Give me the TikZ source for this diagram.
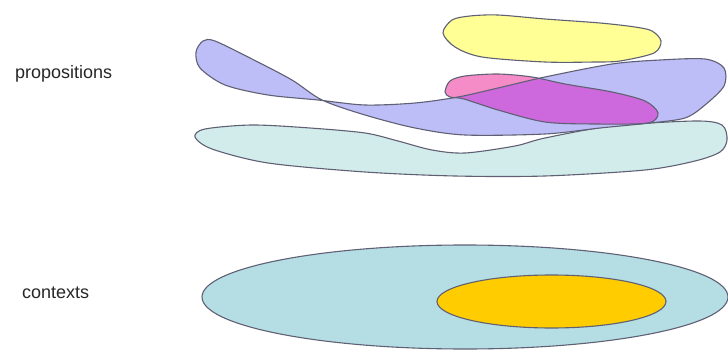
\documentclass[tikz,border=0pt]{standalone}
\usepackage{fontspec}
\setmainfont{Liberation Sans}
\definecolor{outline}{RGB}{96,96,116}
\definecolor{lavender}{RGB}{189,189,247}
\definecolor{rose}{RGB}{245,140,200}
\definecolor{mauve}{RGB}{205,105,220}
\definecolor{lemon}{RGB}{255,255,150}
\definecolor{mint}{RGB}{210,236,236}
\definecolor{ctxblue}{RGB}{180,222,228}
\definecolor{ctxorange}{RGB}{255,204,0}

\begin{document}
\begin{tikzpicture}[x=1pt,y=-1pt,
    blob/.style={draw=outline, line width=1.1pt, line join=round},
    label/.style={anchor=base west, inner sep=0pt, text=black!85,
      font=\fontsize{18}{20}\selectfont}]
    \useasboundingbox (0,0) rectangle (728,350);

    \node[label] (1) at (15,79) {propositions};
    \node[label] (2) at (22,298) {contexts};

    % propositions
    \filldraw[blob, fill=lemon] plot[smooth cycle] coordinates {(443,33) (452,20) (470,16) (498,15) (545,19) (600,23) (635,27) (652,31) (661,41) (654,53) (620,61) (595,62) (545,62) (482,57) (455,47)};
    \filldraw[blob, fill=mint] plot[smooth cycle] coordinates {(195,137) (205,129) (252,125) (310,128) (365,133) (398,141) (432,150) (465,153) (515,146) (545,138) (612,126) (695,121) (722,125) (727,140) (720,152) (695,161) (645,170) (545,176) (455,176) (365,172) (268,163) (212,149)};

    \path[save path=\pblue] plot[smooth cycle] coordinates {(196,52) (203,41) (215,41) (252,59) (292,80) (322,100) (365,115) (415,128) (465,135) (545,134) (600,128) (650,123) (685,118) (705,105) (724,86) (724,68) (705,59) (660,60) (612,64) (545,77) (498,88) (458,97) (415,103) (365,105) (318,100) (268,95) (225,85) (200,68)};
    \path[save path=\ppink] plot[smooth cycle] coordinates {(445,92) (450,81) (465,76) (498,74) (532,77) (565,84) (612,92) (645,101) (658,113) (648,123) (595,124) (545,122) (498,110) (464,99) (450,97)};

    \path[use path=\pblue, fill=lavender];
    \path[use path=\ppink, fill=rose];
    \begin{scope}
        \clip[use path=\pblue];
        \path[use path=\ppink, fill=mauve];
    \end{scope}
    \path[use path=\pblue, blob];
    \path[use path=\ppink, blob];

    % contexts
    \filldraw[blob, fill=ctxblue] (465,297) ellipse [x radius=263, y radius=52];
    \filldraw[blob, fill=ctxorange] (551.5,301.5) ellipse [x radius=114.5, y radius=26.5];
\end{tikzpicture}
\end{document}
